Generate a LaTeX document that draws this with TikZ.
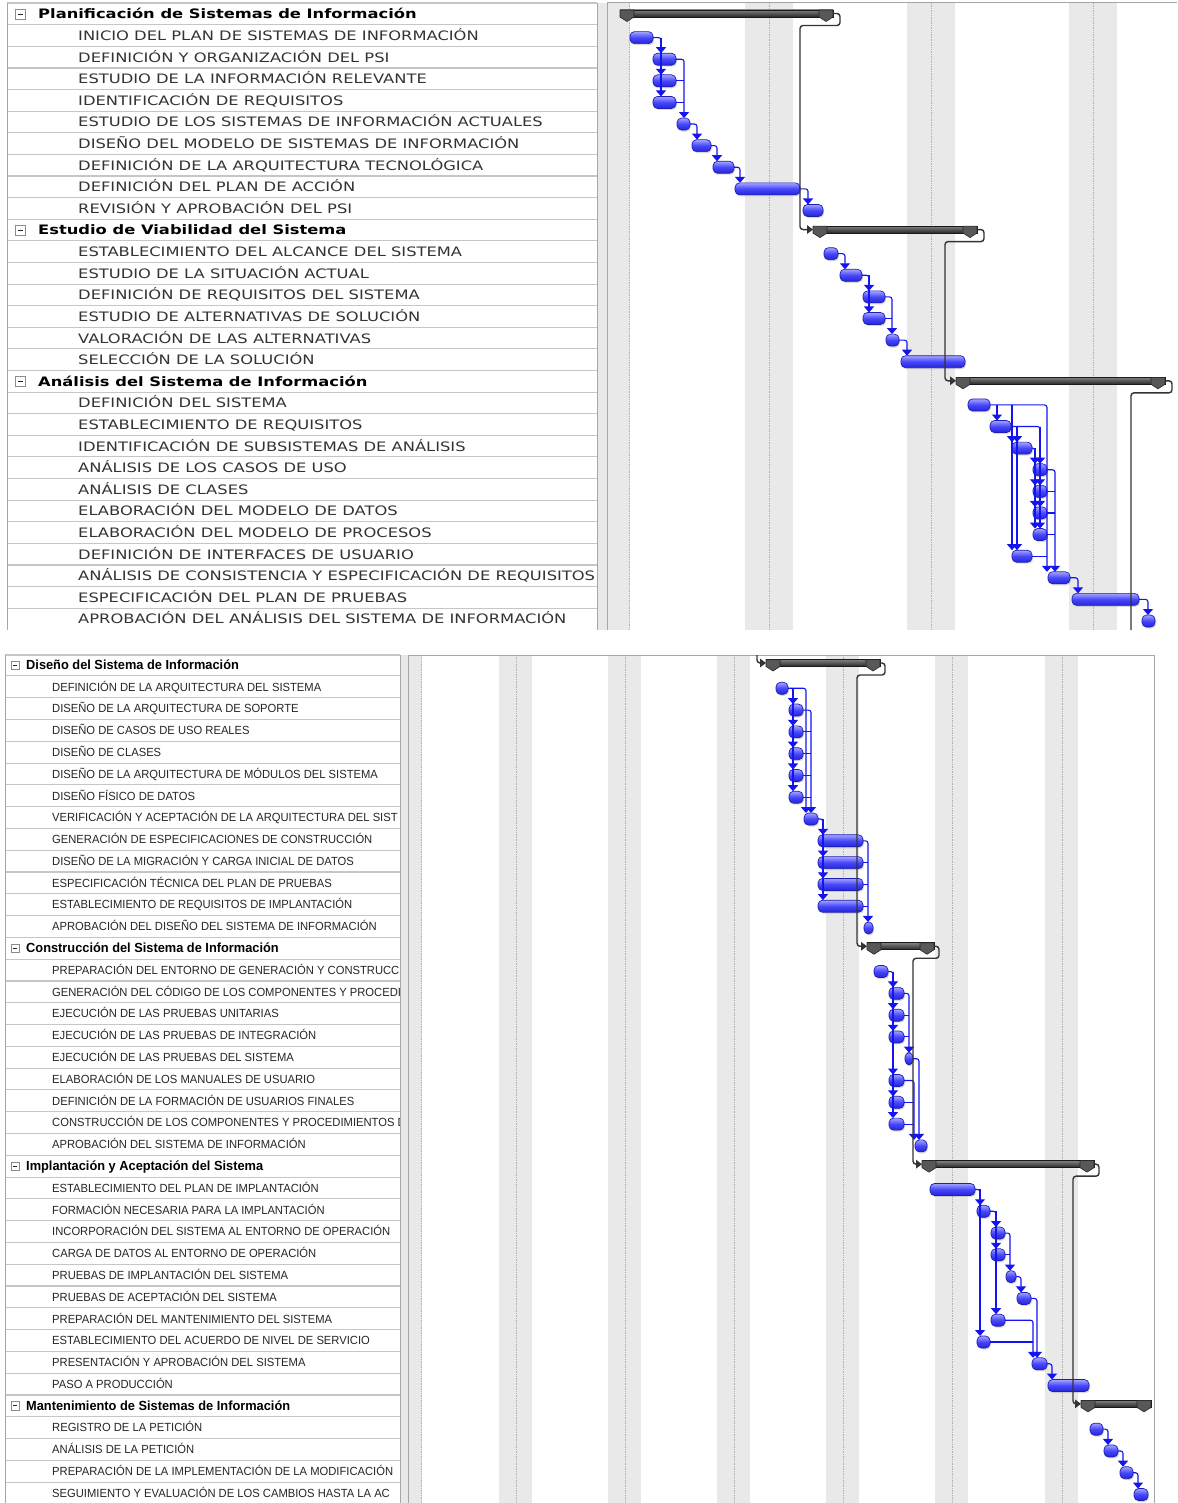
\documentclass[tikz,border=0pt]{standalone}
\usepackage{fontspec}
\newfontfamily\topfont[FakeStretch=1.255]{DejaVu Sans}
\newfontfamily\botfont[FakeStretch=0.95]{Liberation Sans}
\newfontfamily\bothead[FakeStretch=0.97]{Liberation Sans}
\usetikzlibrary{arrows.meta,shadows}
\definecolor{bartop}{HTML}{A4A4FF}
\definecolor{barmid}{HTML}{4646FA}
\definecolor{barbot}{HTML}{2424D8}
\definecolor{barline}{HTML}{1E1EB4}
\definecolor{depblue}{HTML}{1414F0}
\definecolor{capgray}{HTML}{585858}
\definecolor{rowsepc}{HTML}{C6C6C6}
\definecolor{wkfill}{HTML}{E9E9E9}
\newcommand\yT[1]{(14+21.607*(#1))}
\newcommand\yB[1]{(665+21.79*(#1))}
\newcommand\GBar[4]{\node[taskbar, minimum width={(#3-#2)*1pt}] (#1) at ({(#2+#3)/2},{#4}) {};}
\newcommand\GSum[4]{%
  \node[sumbar, minimum width={(#3-#2)*1pt}] (#1) at ({(#2+#3)/2},{#4}) {};
  \filldraw[capstyle] (#1.north west) -- ++(14,0) -- ++(0,7) -- ++(-7,4.5) -- ++(-7,-4.5) -- cycle;
  \filldraw[capstyle] (#1.north east) -- ++(-14,0) -- ++(0,7) -- ++(7,4.5) -- ++(7,-4.5) -- cycle;}
\newcommand\TopTask[3]{\node[lblT] (#1) at (78,{\yT{#2}+4.9}) {#3};}
\newcommand\TopHead[3]{\node[hdrT] (#1) at (38,{\yT{#2}+4.9}) {#3};\node[minusT] (#1m) at (20.5,{\yT{#2}}) {};}
\newcommand\BotTask[3]{\node[lblB] (#1) at (52,{\yB{#2}+4.3}) {#3};}
\newcommand\BotHead[3]{\node[hdrB] (#1) at (26,{\yB{#2}+4.6}) {#3};\node[minusB] (#1m) at (15,{\yB{#2}}) {};}
\begin{document}
\begin{tikzpicture}[x=1pt,y=-1pt,
  lblT/.style={anchor=base west, inner sep=0, font={\topfont\fontsize{13}{15}\selectfont}, text=black!80},
  hdrT/.style={anchor=base west, inner sep=0, font={\topfont\bfseries\fontsize{13}{15}\selectfont}, text=black},
  lblB/.style={anchor=base west, inner sep=0, font={\botfont\fontsize{11.8}{13}\selectfont}, text=black!85},
  hdrB/.style={anchor=base west, inner sep=0, font={\bothead\bfseries\fontsize{13.2}{15}\selectfont}, text=black},
  minusT/.style={draw=black!45, fill=white, minimum size=10pt, inner sep=0,
    path picture={\draw[black!85, line width=0.9pt] ([xshift=2.2pt]path picture bounding box.west) -- ([xshift=-2.2pt]path picture bounding box.east);}},
  minusB/.style={draw=black!45, fill=white, minimum size=8.5pt, inner sep=0,
    path picture={\draw[black!85, line width=0.8pt] ([xshift=2pt]path picture bounding box.west) -- ([xshift=-2pt]path picture bounding box.east);}},
  taskbar/.style={draw=barline, line width=0.7pt, rounded corners=4.5pt, top color=bartop, bottom color=barbot, middle color=barmid,
    minimum height=12pt, inner sep=0, outer sep=0,
    drop shadow={shadow xshift=1pt, shadow yshift=-1.5pt, opacity=0.3}},
  sumbar/.style={draw=black!90, line width=0.6pt, top color=black!50, bottom color=black!85, minimum height=7pt, inner sep=0, outer sep=0},
  capstyle/.style={fill=capgray, draw=black!85, line width=0.6pt, line join=round},
  dep/.style={draw=depblue, line width=1.1pt, rounded corners=2.5pt, -{Triangle[width=10pt,length=6pt]}},
  depl/.style={draw=depblue, line width=1.1pt, rounded corners=2.5pt},
  sdep/.style={draw=black!80, line width=1.4pt, rounded corners=3pt, -{Triangle[width=8.5pt,length=6pt]}},
  sline/.style={draw=black!80, line width=1.4pt, rounded corners=3pt},
  rowsep/.style={draw=rowsepc, line width=1.1pt},
  border/.style={draw=black!35, line width=1pt},
  wkline/.style={draw=black!30, line width=0.7pt, densely dotted}]
\useasboundingbox (0,0) rectangle (1177,1503);
\fill[white] (0,0) rectangle (1177,1503);

% ================= TOP PANEL =================
\fill[wkfill] (607,3) rectangle (630,630);
\draw[wkline] (629.5,3) -- (629.5,630);
\foreach \a/\m/\b in {745/769/793, 907/931/955, 1069/1093/1117}{
  \fill[wkfill] (\a,3) rectangle (\b,630);
  \draw[wkline] (\m,3) -- (\m,630);}
\foreach \i in {0,...,27} \draw[rowsep] (7,{\yT{\i}+10.8}) -- (597,{\yT{\i}+10.8});
\draw[rowsep] (7,3) -- (597,3);
\draw[border] (7,3) -- (7,630);
\fill[black!9] (597,3) rectangle (607,630);
\draw[border] (597,3) -- (597,630);
\draw[border] (607,3) -- (607,630);
\draw[border] (607,3) -- (1177,3);

\begin{scope}
\clip (7,3) rectangle (597,630);
\TopHead{hT0}{0}{Planificación de Sistemas de Información}
\TopTask{tT1}{1}{INICIO DEL PLAN DE SISTEMAS DE INFORMACIÓN}
\TopTask{tT2}{2}{DEFINICIÓN Y ORGANIZACIÓN DEL PSI}
\TopTask{tT3}{3}{ESTUDIO DE LA INFORMACIÓN RELEVANTE}
\TopTask{tT4}{4}{IDENTIFICACIÓN DE REQUISITOS}
\TopTask{tT5}{5}{ESTUDIO DE LOS SISTEMAS DE INFORMACIÓN ACTUALES}
\TopTask{tT6}{6}{DISEÑO DEL MODELO DE SISTEMAS DE INFORMACIÓN}
\TopTask{tT7}{7}{DEFINICIÓN DE LA ARQUITECTURA TECNOLÓGICA}
\TopTask{tT8}{8}{DEFINICIÓN DEL PLAN DE ACCIÓN}
\TopTask{tT9}{9}{REVISIÓN Y APROBACIÓN DEL PSI}
\TopHead{hT10}{10}{Estudio de Viabilidad del Sistema}
\TopTask{tT11}{11}{ESTABLECIMIENTO DEL ALCANCE DEL SISTEMA}
\TopTask{tT12}{12}{ESTUDIO DE LA SITUACIÓN ACTUAL}
\TopTask{tT13}{13}{DEFINICIÓN DE REQUISITOS DEL SISTEMA}
\TopTask{tT14}{14}{ESTUDIO DE ALTERNATIVAS DE SOLUCIÓN}
\TopTask{tT15}{15}{VALORACIÓN DE LAS ALTERNATIVAS}
\TopTask{tT16}{16}{SELECCIÓN DE LA SOLUCIÓN}
\TopHead{hT17}{17}{Análisis del Sistema de Información}
\TopTask{tT18}{18}{DEFINICIÓN DEL SISTEMA}
\TopTask{tT19}{19}{ESTABLECIMIENTO DE REQUISITOS}
\TopTask{tT20}{20}{IDENTIFICACIÓN DE SUBSISTEMAS DE ANÁLISIS}
\TopTask{tT21}{21}{ANÁLISIS DE LOS CASOS DE USO}
\TopTask{tT22}{22}{ANÁLISIS DE CLASES}
\TopTask{tT23}{23}{ELABORACIÓN DEL MODELO DE DATOS}
\TopTask{tT24}{24}{ELABORACIÓN DEL MODELO DE PROCESOS}
\TopTask{tT25}{25}{DEFINICIÓN DE INTERFACES DE USUARIO}
\TopTask{tT26}{26}{ANÁLISIS DE CONSISTENCIA Y ESPECIFICACIÓN DE REQUISITOS}
\TopTask{tT27}{27}{ESPECIFICACIÓN DEL PLAN DE PRUEBAS}
\TopTask{tT28}{28}{APROBACIÓN DEL ANÁLISIS DEL SISTEMA DE INFORMACIÓN}
\end{scope}

\GSum{s0}{620}{833}{\yT{0}-0.5}
\GBar{b1}{630}{653}{\yT{1}+2}
\GBar{b2}{653}{676}{\yT{2}+2}
\GBar{b3}{653}{676}{\yT{3}+2}
\GBar{b4}{653}{676}{\yT{4}+2}
\GBar{b5}{677}{690}{\yT{5}+2}
\GBar{b6}{692}{711}{\yT{6}+2}
\GBar{b7}{713}{734}{\yT{7}+2}
\GBar{b8}{735}{800}{\yT{8}+2}
\GBar{b9}{803}{823}{\yT{9}+2}
\GSum{s1}{813}{977}{\yT{10}-0.5}
\GBar{b11}{824}{838}{\yT{11}+2}
\GBar{b12}{840}{862}{\yT{12}+2}
\GBar{b13}{863}{885}{\yT{13}+2}
\GBar{b14}{863}{885}{\yT{14}+2}
\GBar{b15}{886}{899}{\yT{15}+2}
\GBar{b16}{901}{965}{\yT{16}+2}
\GSum{s2}{956}{1165}{\yT{17}-0.5}
\GBar{b18}{968}{990}{\yT{18}+2}
\GBar{b19}{990}{1011}{\yT{19}+2}
\GBar{b20}{1012}{1032}{\yT{20}+2}
\GBar{b21}{1033}{1047}{\yT{21}+2}
\GBar{b22}{1033}{1047}{\yT{22}+2}
\GBar{b23}{1033}{1047}{\yT{23}+2}
\GBar{b24}{1033}{1047}{\yT{24}+2}
\GBar{b25}{1012}{1032}{\yT{25}+2}
\GBar{b26}{1048}{1070}{\yT{26}+2}
\GBar{b27}{1072}{1139}{\yT{27}+2}
\GBar{b28}{1142}{1155}{\yT{28}+2}

\draw[dep] (b1.east) -- ++(8,0) coordinate (g1) -- (g1 |- b2.north);
\draw[dep] (g1) -- (g1 |- b3.north);
\draw[dep] (g1) -- (g1 |- b4.north);
\draw[dep] (b2.east) -- ++(8,0) coordinate (g2) -- (g2 |- b5.north);
\draw[depl] (b3.east) -- (g2 |- b3.east);
\draw[depl] (b4.east) -- (g2 |- b4.east);
\draw[dep] (b5.east) -- ++(7,0) coordinate (g5) -- (g5 |- b6.north);
\draw[dep] (b6.east) -- ++(6,0) coordinate (g6) -- (g6 |- b7.north);
\draw[dep] (b7.east) -- ++(6,0) coordinate (g7) -- (g7 |- b8.north);
\draw[dep] (b8.east) -- ++(8,0) coordinate (g8) -- (g8 |- b9.north);
\draw[dep] (b11.east) -- ++(7,0) coordinate (g11) -- (g11 |- b12.north);
\draw[dep] (b12.east) -- ++(7,0) coordinate (g12) -- (g12 |- b13.north);
\draw[dep] (g12) -- (g12 |- b14.north);
\draw[dep] (b13.east) -- ++(7,0) coordinate (g13) -- (g13 |- b15.north);
\draw[depl] (b14.east) -- (g13 |- b14.east);
\draw[dep] (b15.east) -- ++(8,0) coordinate (g15) -- (g15 |- b16.north);
\draw[dep] (b18.east) -- ++(57,0) coordinate (h18) -- (h18 |- b26.north);
\coordinate (h18a) at ([xshift=7pt]b18.east);
\coordinate (h18b) at ([xshift=22pt]b18.east);
\draw[dep] (h18a) -- (h18a |- b19.north);
\draw[dep] (h18b) -- (h18b |- b20.north);
\draw[dep] (h18b) -- (h18b |- b25.north);
\draw[dep] (b19.east) -- ++(29,0) coordinate (h19) -- (h19 |- b21.north);
\foreach \t in {b22,b23,b24} \draw[dep] (h19) -- (h19 |- \t.north);
\coordinate (h19a) at ([xshift=6pt]b19.east);
\draw[dep] (h19a) -- (h19a |- b20.north);
\draw[dep] (h19a) -- (h19a |- b25.north);
\draw[dep] (b20.east) -- ++(3,0) coordinate (h20) -- (h20 |- b21.north);
\foreach \t in {b22,b23,b24} \draw[dep] (h20) -- (h20 |- \t.north);
\draw[dep] (b21.east) -- ++(8,0) coordinate (h21) -- (h21 |- b26.north);
\foreach \t in {b22,b23,b24} \draw[depl] (\t.east) -- (h21 |- \t.east);
\draw[depl] (b25.east) -- (h18 |- b25.east);
\draw[dep] (b26.east) -- ++(8,0) coordinate (h26) -- (h26 |- b27.north);
\draw[dep] (b27.east) -- ++(9,0) coordinate (h27) -- (h27 |- b28.north);
\coordinate (v0) at (800,0);
\coordinate (v1) at (945,0);
\coordinate (v2) at (1131,630);
\draw[sdep] (s0.east) -- ++(7,0) -- ++(0,12) -| (v0 |- s1.west) -- (s1.west);
\draw[sdep] (s1.east) -- ++(7,0) -- ++(0,12) -| (v1 |- s2.west) -- (s2.west);
\draw[sline] (s2.east) -- ++(7,0) -- ++(0,12) -| (v2);

% ================= BOTTOM PANEL =================
\fill[wkfill] (408,655) rectangle (422,1503);
\draw[wkline] (421.5,655) -- (421.5,1503);
\foreach \a/\m/\b in {499/516/532, 608/625/641, 717/734/750, 826/843/859, 935/952/968, 1045/1062/1078}{
  \fill[wkfill] (\a,655) rectangle (\b,1503);
  \draw[wkline] (\m,655) -- (\m,1503);}
\foreach \i in {0,...,37} \draw[rowsep] (5,{\yB{\i}+10.9}) -- (400,{\yB{\i}+10.9});
\draw[rowsep] (5,655) -- (400,655);
\draw[border] (5,655) -- (5,1503);
\fill[black!9] (400,655) rectangle (408,1503);
\draw[border] (400,655) -- (400,1503);
\draw[border] (408,655) -- (408,1503);
\draw[border] (408,655) -- (1154,655);
\draw[border] (1154,655) -- (1154,1503);

\begin{scope}
\clip (5,655) rectangle (399.5,1503);
\BotHead{hB0}{0}{Diseño del Sistema de Información}
\BotTask{tB1}{1}{DEFINICIÓN DE LA ARQUITECTURA DEL SISTEMA}
\BotTask{tB2}{2}{DISEÑO DE LA ARQUITECTURA DE SOPORTE}
\BotTask{tB3}{3}{DISEÑO DE CASOS DE USO REALES}
\BotTask{tB4}{4}{DISEÑO DE CLASES}
\BotTask{tB5}{5}{DISEÑO DE LA ARQUITECTURA DE MÓDULOS DEL SISTEMA}
\BotTask{tB6}{6}{DISEÑO FÍSICO DE DATOS}
\BotTask{tB7}{7}{VERIFICACIÓN Y ACEPTACIÓN DE LA ARQUITECTURA DEL SIST}
\BotTask{tB8}{8}{GENERACIÓN DE ESPECIFICACIONES DE CONSTRUCCIÓN}
\BotTask{tB9}{9}{DISEÑO DE LA MIGRACIÓN Y CARGA INICIAL DE DATOS}
\BotTask{tB10}{10}{ESPECIFICACIÓN TÉCNICA DEL PLAN DE PRUEBAS}
\BotTask{tB11}{11}{ESTABLECIMIENTO DE REQUISITOS DE IMPLANTACIÓN}
\BotTask{tB12}{12}{APROBACIÓN DEL DISEÑO DEL SISTEMA DE INFORMACIÓN}
\BotHead{hB13}{13}{Construcción del Sistema de Información}
\BotTask{tB14}{14}{PREPARACIÓN DEL ENTORNO DE GENERACIÓN Y CONSTRUCCI}
\BotTask{tB15}{15}{GENERACIÓN DEL CÓDIGO DE LOS COMPONENTES Y PROCEDIM}
\BotTask{tB16}{16}{EJECUCIÓN DE LAS PRUEBAS UNITARIAS}
\BotTask{tB17}{17}{EJECUCIÓN DE LAS PRUEBAS DE INTEGRACIÓN}
\BotTask{tB18}{18}{EJECUCIÓN DE LAS PRUEBAS DEL SISTEMA}
\BotTask{tB19}{19}{ELABORACIÓN DE LOS MANUALES DE USUARIO}
\BotTask{tB20}{20}{DEFINICIÓN DE LA FORMACIÓN DE USUARIOS FINALES}
\BotTask{tB21}{21}{CONSTRUCCIÓN DE LOS COMPONENTES Y PROCEDIMIENTOS DE}
\BotTask{tB22}{22}{APROBACIÓN DEL SISTEMA DE INFORMACIÓN}
\BotHead{hB23}{23}{Implantación y Aceptación del Sistema}
\BotTask{tB24}{24}{ESTABLECIMIENTO DEL PLAN DE IMPLANTACIÓN}
\BotTask{tB25}{25}{FORMACIÓN NECESARIA PARA LA IMPLANTACIÓN}
\BotTask{tB26}{26}{INCORPORACIÓN DEL SISTEMA AL ENTORNO DE OPERACIÓN}
\BotTask{tB27}{27}{CARGA DE DATOS AL ENTORNO DE OPERACIÓN}
\BotTask{tB28}{28}{PRUEBAS DE IMPLANTACIÓN DEL SISTEMA}
\BotTask{tB29}{29}{PRUEBAS DE ACEPTACIÓN DEL SISTEMA}
\BotTask{tB30}{30}{PREPARACIÓN DEL MANTENIMIENTO DEL SISTEMA}
\BotTask{tB31}{31}{ESTABLECIMIENTO DEL ACUERDO DE NIVEL DE SERVICIO}
\BotTask{tB32}{32}{PRESENTACIÓN Y APROBACIÓN DEL SISTEMA}
\BotTask{tB33}{33}{PASO A PRODUCCIÓN}
\BotHead{hB34}{34}{Mantenimiento de Sistemas de Información}
\BotTask{tB35}{35}{REGISTRO DE LA PETICIÓN}
\BotTask{tB36}{36}{ANÁLISIS DE LA PETICIÓN}
\BotTask{tB37}{37}{PREPARACIÓN DE LA IMPLEMENTACIÓN DE LA MODIFICACIÓN}
\BotTask{tB38}{38}{SEGUIMIENTO Y EVALUACIÓN DE LOS CAMBIOS HASTA LA AC}
\end{scope}

\GSum{s3}{766}{880}{\yB{0}-2}
\GBar{c1}{776}{788}{\yB{1}+1.5}
\GBar{c2}{789}{803}{\yB{2}+1.5}
\GBar{c3}{789}{803}{\yB{3}+1.5}
\GBar{c4}{789}{803}{\yB{4}+1.5}
\GBar{c5}{789}{803}{\yB{5}+1.5}
\GBar{c6}{789}{803}{\yB{6}+1.5}
\GBar{c7}{804}{818}{\yB{7}+1.5}
\GBar{c8}{818}{863}{\yB{8}+1.5}
\GBar{c9}{818}{863}{\yB{9}+1.5}
\GBar{c10}{818}{863}{\yB{10}+1.5}
\GBar{c11}{818}{863}{\yB{11}+1.5}
\GBar{c12}{864}{873}{\yB{12}+1.5}
\GSum{s4}{867}{934}{\yB{13}-2}
\GBar{c14}{874}{888}{\yB{14}+1.5}
\GBar{c15}{889}{904}{\yB{15}+1.5}
\GBar{c16}{889}{904}{\yB{16}+1.5}
\GBar{c17}{889}{904}{\yB{17}+1.5}
\GBar{c18}{905}{913}{\yB{18}+1.5}
\GBar{c19}{889}{904}{\yB{19}+1.5}
\GBar{c20}{889}{904}{\yB{20}+1.5}
\GBar{c21}{889}{904}{\yB{21}+1.5}
\GBar{c22}{915}{927}{\yB{22}+1.5}
\GSum{s5}{922}{1094}{\yB{23}-2}
\GBar{c24}{930}{975}{\yB{24}+1.5}
\GBar{c25}{977}{990}{\yB{25}+1.5}
\GBar{c26}{991}{1005}{\yB{26}+1.5}
\GBar{c27}{991}{1005}{\yB{27}+1.5}
\GBar{c28}{1006}{1016}{\yB{28}+1.5}
\GBar{c29}{1017}{1031}{\yB{29}+1.5}
\GBar{c30}{991}{1005}{\yB{30}+1.5}
\GBar{c31}{977}{990}{\yB{31}+1.5}
\GBar{c32}{1032}{1047}{\yB{32}+1.5}
\GBar{c33}{1048}{1089}{\yB{33}+1.5}
\GSum{s6}{1081}{1151}{\yB{34}-2}
\GBar{c35}{1090}{1103}{\yB{35}+1.5}
\GBar{c36}{1104}{1118}{\yB{36}+1.5}
\GBar{c37}{1120}{1133}{\yB{37}+1.5}
\GBar{c38}{1134}{1148}{\yB{38}+1.5}

\draw[dep] (c1.east) -- ++(18,0) coordinate (d1b) -- (d1b |- c7.north);
\coordinate (d1) at ([xshift=5pt]c1.east);
\foreach \t in {c2,c3,c4,c5,c6} \draw[dep] (d1) -- (d1 |- \t.north);
\draw[dep] (c2.east) -- ++(8,0) coordinate (d2) -- (d2 |- c7.north);
\foreach \t in {c3,c4,c5,c6} \draw[depl] (\t.east) -- (d2 |- \t.east);
\draw[dep] (c7.east) -- ++(5,0) coordinate (d7) -- (d7 |- c8.north);
\foreach \t in {c9,c10,c11} \draw[dep] (d7) -- (d7 |- \t.north);
\draw[dep] (c8.east) -- ++(5,0) coordinate (d8) -- (d8 |- c12.north);
\foreach \t in {c9,c10,c11} \draw[depl] (\t.east) -- (d8 |- \t.east);

\draw[dep] (c14.east) -- ++(5,0) coordinate (e14) -- (e14 |- c15.north);
\foreach \t in {c16,c17,c19,c20,c21} \draw[dep] (e14) -- (e14 |- \t.north);
\draw[dep] (c15.east) -- ++(5,0) coordinate (e15) -- (e15 |- c18.north);
\foreach \t in {c16,c17} \draw[depl] (\t.east) -- (e15 |- \t.east);
\draw[dep] (c18.east) -- ++(6,0) coordinate (e18) -- (e18 |- c22.north);
\draw[dep] (c19.east) -- ++(10,0) coordinate (e19) -- (e19 |- c22.north);
\foreach \t in {c20,c21} \draw[depl] (\t.east) -- (e19 |- \t.east);

\draw[dep] (c24.east) -- ++(5,0) coordinate (f24) -- (f24 |- c25.north);
\draw[dep] (f24) -- (f24 |- c31.north);
\draw[dep] (c25.east) -- ++(6,0) coordinate (f25) -- (f25 |- c26.north);
\draw[dep] (f25) -- (f25 |- c27.north);
\draw[dep] (f25) -- (f25 |- c30.north);
\draw[dep] (c26.east) -- ++(5,0) coordinate (f26) -- (f26 |- c28.north);
\draw[depl] (c27.east) -- (f26 |- c27.east);
\draw[dep] (c28.east) -- ++(5,0) coordinate (f28) -- (f28 |- c29.north);
\draw[dep] (c29.east) -- ++(6,0) coordinate (f29) -- (f29 |- c32.north);
\draw[dep] (c30.east) -- ++(28,0) coordinate (f30) -- (f30 |- c32.north);
\draw[depl] (c31.east) -- (f30 |- c31.east);
\draw[dep] (c32.east) -- ++(5,0) coordinate (f32) -- (f32 |- c33.north);

\draw[dep] (c35.east) -- ++(5,0) coordinate (f35) -- (f35 |- c36.north);
\draw[dep] (c36.east) -- ++(5,0) coordinate (f36) -- (f36 |- c37.north);
\draw[dep] (c37.east) -- ++(5,0) coordinate (f37) -- (f37 |- c38.north);

\coordinate (w0) at (757,655);
\coordinate (w1) at (857,0);
\coordinate (w2) at (913,0);
\coordinate (w3) at (1073,0);
\draw[sdep] (w0) |- (s3.west);
\draw[sdep] (s3.east) -- ++(5,0) -- ++(0,12) -| (w1 |- s4.west) -- (s4.west);
\draw[sdep] (s4.east) -- ++(5,0) -- ++(0,12) -| (w2 |- s5.west) -- (s5.west);
\draw[sdep] (s5.east) -- ++(5,0) -- ++(0,12) -| (w3 |- s6.west) -- (s6.west);
\end{tikzpicture}
\end{document}
